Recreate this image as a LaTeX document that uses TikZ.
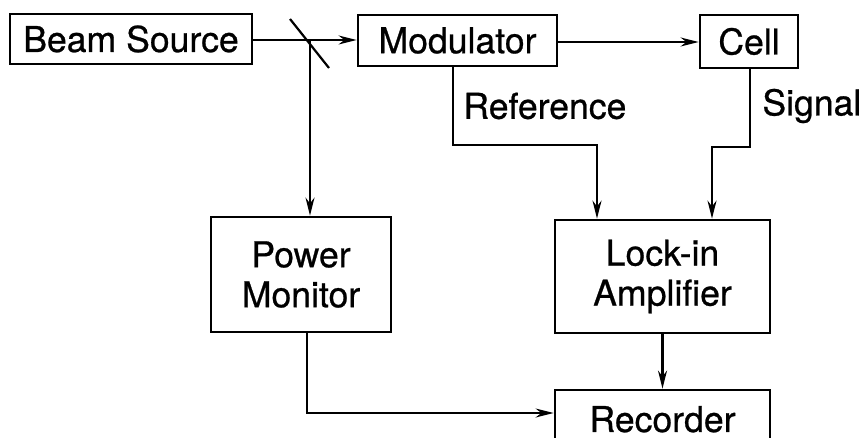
\documentclass[tikz,border=0pt]{standalone}
\usepackage{fontspec}
\setmainfont{TeX Gyre Heros}[FakeBold=0.7]
\usetikzlibrary{arrows.meta}
\begin{document}
\begin{tikzpicture}[x=0.5pt,y=-0.5pt,
  blk/.style={draw,line width=1.4pt,inner sep=0pt,font=\fontsize{17.8}{20}\selectfont,align=center},
  conn/.style={line width=1.1pt},
  arr/.style={conn,-{Stealth[length=9pt,width=4.5pt]}},
  lbl/.style={inner sep=0pt,anchor=west,font=\fontsize{17.8}{20}\selectfont}]
\useasboundingbox (0,0) rectangle (860,438);
\clip (0,0) rectangle (860,438);
\node[blk,minimum width=121pt,minimum height=25pt] (beam) at (131,39) {Beam Source};
\node[blk,minimum width=99.5pt,minimum height=25.5pt] (mod) at (457.5,40.5) {Modulator};
\node[blk,minimum width=49pt,minimum height=26.5pt] (cell) at (749,41.5) {Cell};
\node[blk,minimum width=90pt,minimum height=57.5pt] (power) at (301,274.5) {Power\\Monitor};
\node[blk,minimum width=107.5pt,minimum height=56.5pt] (lockin) at (662.5,276.5) {Lock-in\\Amplifier};
\node[blk,minimum width=107.5pt,minimum height=35pt,text depth=0pt] (rec) at (662.5,425) {\raisebox{6pt}{Recorder}};
\coordinate (split) at (310,40);
\coordinate (m1) at (290,19);
\coordinate (m2) at (329,68);
\draw[conn] (m1) -- (m2);
\draw[arr] (beam.east |- split) -- (mod.west |- split);
\draw[arr] (mod.east |- 0,42) -- (cell.west |- 0,42);
\draw[arr] (split) -- (split |- power.north);
\coordinate (r1) at (453,145);
\coordinate (r2) at (597,145);
\draw[arr] (mod.south -| r1) -- (r1) -- (r2) -- (lockin.north -| r2);
\coordinate (s1) at (750,147);
\coordinate (s2) at (712,147);
\draw[arr] (cell.south -| s1) -- (s1) -- (s2) -- (lockin.north -| s2);
\draw[arr] (lockin.south) -- (rec.north);
\coordinate (p1) at (307,413);
\draw[arr] (power.south -| p1) -- (p1) -- (rec.west |- p1);
\node[lbl] (reflbl) at (463,106) {Reference};
\node[lbl] (siglbl) at (762,106) {Signal};
\end{tikzpicture}
\end{document}
